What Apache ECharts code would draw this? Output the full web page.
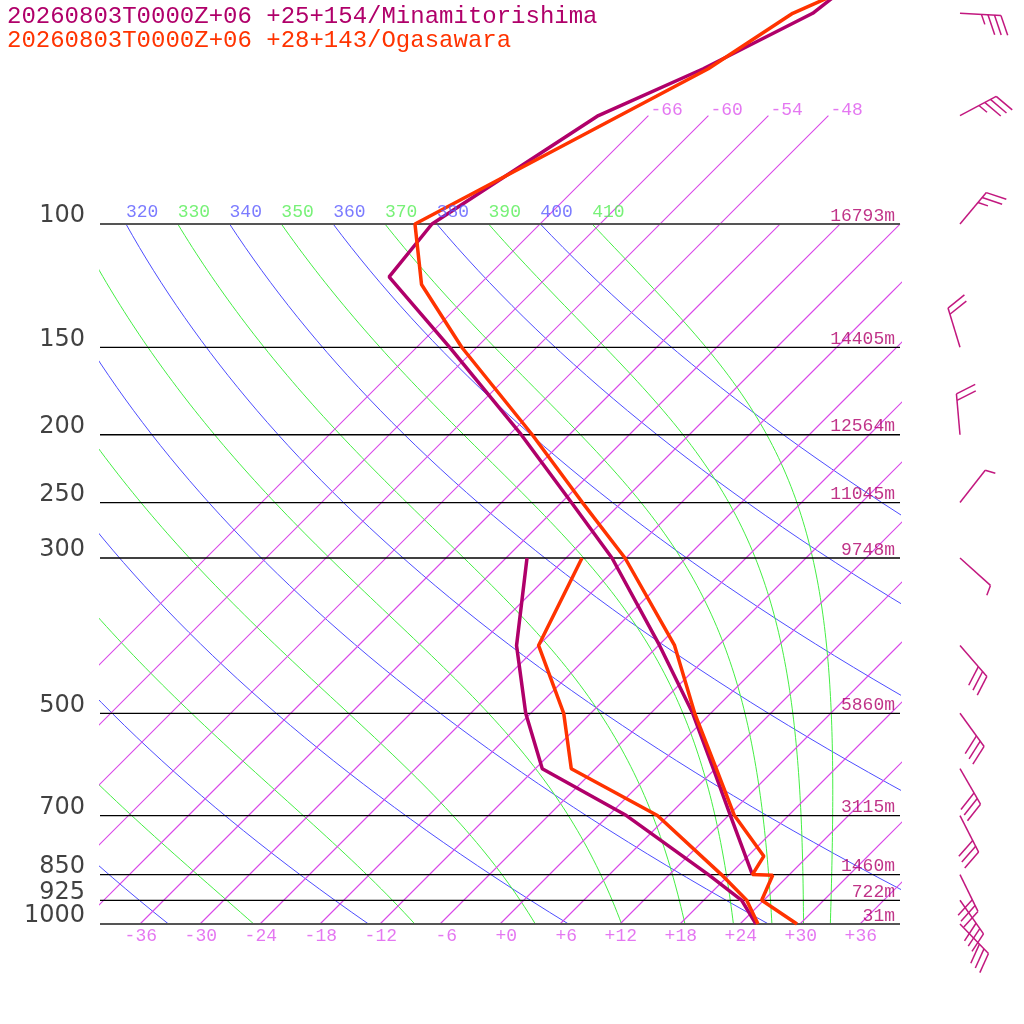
<!DOCTYPE html>
<html>
<head>
<meta charset="utf-8">
<script src="https://cdn.jsdelivr.net/npm/echarts@6/dist/echarts.min.js"></script>
<style>
html, body { margin: 0; padding: 0; background: #fff; }
#chart { width: 1024px; height: 1024px; }
</style>
</head>
<body>
<div id="chart"></div>
<script>
// pressure lines and heights (m)
var levels = [100, 150, 200, 250, 300, 500, 700, 850, 925, 1000];
var heights = ['16793m', '14405m', '12564m', '11045m', '9748m', '5860m', '3115m', '1460m', '722m', '31m'];

// Minamitorishima
var mtP = [40, 50, 60, 70, 100, 119, 150, 200, 250, 300, 400, 500, 600, 700, 850];
var mtT = [-57.9, -59.8, -65.2, -71.0, -76.8, -75.8, -62.7, -46.8, -35.0, -25.4, -11.9, -1.8, 5.8, 12.2, 20.3];
var mtDewP = [300, 400, 500, 600, 700, 850, 925, 1000];
var mtTd = [-33.9, -26.2, -18.5, -11.3, 1.8, 15.9, 21.8, 25.6];

// Ogasawara
var ogP = [40, 50, 60, 100, 122, 150, 200, 250, 300, 400, 500, 600, 700, 800, 850, 852, 925, 1000];
var ogT = [-53.2, -61.8, -64.7, -78.5, -71.8, -61.5, -45.7, -33.9, -24.1, -10.4, -1.6, 6.1, 12.6, 19.6, 20.3, 22.4, 23.8, 29.7];
var ogDewP = [300, 400, 500, 600, 700, 850, 925, 1000];
var ogTd = [-28.4, -24.0, -14.7, -8.4, 4.9, 17.2, 22.3, 25.8];

// wind barbs (Minamitorishima)
var windP = [50, 70, 100, 150, 200, 250, 300, 400, 500, 600, 700, 850, 925, 1000];
var windDir = [93, 62, 40, 343, 355, 38, 132, 139, 144, 150, 153, 154, 145, 136];
var windKt = [35, 35, 25, 20, 20, 5, 5, 30, 30, 30, 30, 30, 30, 30];

// background lines
var isoT = [-66, -60, -54, -48, -42, -36, -30, -24, -18, -12, -6, 0, 6, 12, 18, 24, 30, 36];
var dryTheta = [240, 260, 280, 300, 320, 340, 360, 380, 400];
var moistTheta = [250, 270, 290, 310, 330, 350, 370, 390, 410];
var tickT = [-36, -30, -24, -18, -12, -6, 0, 6, 12, 18, 24, 30, 36];

var SKEW = 30.4;  // deg C per unit of ln p (45 degree isotherms)
var KAPPA = 0.2857;
var pTop = 1000 * Math.exp(-924 / 304);

var MONO = '"Liberation Mono", "DejaVu Sans Mono", monospace';
var C_MT = '#b0006a', C_OG = '#ff3300';
var C_ISO = '#d94ae8', C_DRY = '#4d4dff', C_MOIST = '#44ee44';

function skewX(t, p) {
    return t + SKEW * Math.log(1000 / p);
}

function esat(tk) {
    var c = tk - 273.15;
    return 6.112 * Math.exp(17.67 * c / (c + 243.5));
}

// pseudo-adiabatic dT/dlnp
function moistRate(tk, p) {
    var es = esat(tk), rs = 0.622 * es / (p - es);
    var Rd = 287.04, cp = 1005.7, Lv = 2.501e6;
    return (Rd * tk + Lv * rs) / (cp + Lv * Lv * rs * 0.622 / (Rd * tk * tk));
}

function dryLine(theta) {
    var pts = [];
    for (var i = 0; i <= 60; i++) {
        var p = 100 * Math.pow(10, i / 60);
        var t = theta * Math.pow(p / 1000, KAPPA) - 273.15;
        pts.push([skewX(t, p), p]);
    }
    return pts;
}

function moistLine(theta) {
    var tk = theta * Math.pow(0.1, KAPPA);
    var lp = Math.log(100), n = 120, h = (Math.log(1000) - lp) / n;
    var pts = [[skewX(tk - 273.15, 100), 100]];
    for (var i = 0; i < n; i++) {
        var k1 = moistRate(tk, Math.exp(lp));
        var k2 = moistRate(tk + h * k1 / 2, Math.exp(lp + h / 2));
        var k3 = moistRate(tk + h * k2 / 2, Math.exp(lp + h / 2));
        var k4 = moistRate(tk + h * k3, Math.exp(lp + h));
        tk += h * (k1 + 2 * k2 + 2 * k3 + k4) / 6;
        lp += h;
        var p = Math.exp(lp);
        pts.push([skewX(tk - 273.15, p), p]);
    }
    return pts;
}

function profile(ps, ts) {
    return ps.map(function (p, i) { return [skewX(ts[i], p), p]; });
}

function lineSeries(data, color, width, z) {
    return {
        type: 'line', data: data, showSymbol: false, symbol: 'none', silent: true,
        clip: true, z: z, animation: false, color: color, connectNulls: false,
        itemStyle: { color: color },
        lineStyle: { color: color, width: width, opacity: 1 }
    };
}

function labelSeries(data, fmt, style) {
    return {
        type: 'scatter', data: data, symbolSize: 0, clip: false, silent: true, z: 10,
        animation: false,
        label: Object.assign({ show: true, formatter: fmt, fontFamily: MONO, fontSize: 18 }, style)
    };
}

var series = [];

// dry and moist adiabats
var adiLabels = [];
dryTheta.forEach(function (th) {
    var pts = dryLine(th);
    series.push(lineSeries(pts, C_DRY, 1, 2));
    if (pts[0][0] >= -40) adiLabels.push({ value: pts[0], th: th, label: { color: '#5a5aff' } });
});
moistTheta.forEach(function (th) {
    var pts = moistLine(th);
    series.push(lineSeries(pts, C_MOIST, 1, 2));
    if (pts[0][0] >= -40) adiLabels.push({ value: pts[0], th: th, label: { color: '#55ee55' } });
});

// isotherms in one series, split by nulls; the ones whose label fits run up to 70 hPa
var isoLabels = [];
var isoPts = [];
isoT.forEach(function (t) {
    var pEnd = skewX(t, 70) <= 36 ? 70 : 100;
    for (var i = 0; i <= 10; i++) {
        var p = 1000 * Math.pow(pEnd / 1000, i / 10);
        isoPts.push([skewX(t, p), p]);
    }
    isoPts.push([null, null]);
    if (pEnd == 70) isoLabels.push({ value: [skewX(t, 70), 70], t: t });
});
series.push(lineSeries(isoPts, C_ISO, 1.1, 2));

// pressure lines
levels.forEach(function (p) {
    var edge = (p == 100 || p == 1000);
    series.push(lineSeries([[-40, p], [40, p]], edge ? '#555' : '#000', edge ? 2 : 1.3, 3));
});

// soundings
series.push(lineSeries(profile(mtP, mtT), C_MT, 3.5, 5));
series.push(lineSeries(profile(mtDewP, mtTd), C_MT, 3.5, 5));
series.push(lineSeries(profile(ogP, ogT), C_OG, 3.5, 6));
series.push(lineSeries(profile(ogDewP, ogTd), C_OG, 3.5, 6));

// labels
series.push(labelSeries(isoLabels, function (d) { return String(d.data.t); },
    { color: '#dd55ee', position: [2, 4], align: 'left', verticalAlign: 'bottom' }));
series.push(labelSeries(adiLabels, function (d) { return String(d.data.th); },
    { position: [0, -3], align: 'left', verticalAlign: 'bottom' }));
series.push(labelSeries(tickT.map(function (t) { return [t, 1000]; }),
    function (d) { var t = d.value[0]; return (t >= 0 ? '+' : '') + t; },
    { color: '#dd55ee', position: [17, 3], align: 'right', verticalAlign: 'top' }));
series.push(labelSeries(levels.map(function (p, i) { return { value: [40, p], h: heights[i] }; }),
    function (d) { return d.data.h; },
    { color: C_MT, position: [-5, 1], align: 'right', verticalAlign: 'bottom' }));
series.push(labelSeries(levels.map(function (p) { return [-40, p]; }),
    function (d) { return String(d.value[1]); },
    { color: '#111', fontFamily: '"DejaVu Sans", sans-serif', fontSize: 24,
      position: [-15, 4], align: 'right', verticalAlign: 'bottom' }));

// wind barbs
series.push({
    type: 'custom', xAxisIndex: 1, yAxisIndex: 1, silent: true, animation: false, clip: false,
    data: windP.map(function (p, i) { return [0, p, windDir[i], windKt[i]]; }),
    renderItem: function (params, api) {
        var pt = api.coord([0, api.value(1)]);
        var a = api.value(2) * Math.PI / 180, spd = api.value(3);
        var dx = Math.sin(a), dy = -Math.cos(a);
        var fx = 0.93 * (-dy) + 0.37 * dx, fy = 0.93 * dx + 0.37 * dy;
        var L = 41, tx = pt[0] + dx * L, ty = pt[1] + dy * L;
        var st = { stroke: '#c2187f', lineWidth: 1.5 };
        var kids = [{ type: 'line', shape: { x1: pt[0], y1: pt[1], x2: tx, y2: ty }, style: st }];
        var full = Math.floor(spd / 10), half = spd % 10 >= 5 ? 1 : 0, pos = 0;
        for (var i = 0; i < full + half; i++) {
            var len = i < full ? 21 : 10.5;
            var bx = tx - dx * pos, by = ty - dy * pos;
            kids.push({ type: 'line', shape: { x1: bx, y1: by, x2: bx + fx * len, y2: by + fy * len }, style: st });
            pos += 6.5;
        }
        return { type: 'group', children: kids };
    }
});

var chart = echarts.init(document.getElementById('chart'));
chart.setOption({
    animation: false,
    title: {
        text: '20260803T0000Z+06 +25+154/Minamitorishima',
        subtext: '20260803T0000Z+06 +28+143/Ogasawara',
        left: 2, top: 0, itemGap: 0,
        textStyle: { fontFamily: MONO, fontSize: 24, lineHeight: 24, fontWeight: 'normal', color: C_MT },
        subtextStyle: { fontFamily: MONO, fontSize: 24, lineHeight: 24, color: C_OG }
    },
    grid: [
        { left: 100, top: 0, width: 800, height: 924 },
        { left: 960, top: 0, width: 60, height: 924 }
    ],
    xAxis: [
        { type: 'value', gridIndex: 0, min: -40, max: 40, show: false },
        { type: 'value', gridIndex: 1, min: 0, max: 1, show: false }
    ],
    yAxis: [
        { type: 'log', gridIndex: 0, min: pTop, max: 1000, inverse: true, show: false },
        { type: 'log', gridIndex: 1, min: pTop, max: 1000, inverse: true, show: false }
    ],
    series: series
});
</script>
</body>
</html>
